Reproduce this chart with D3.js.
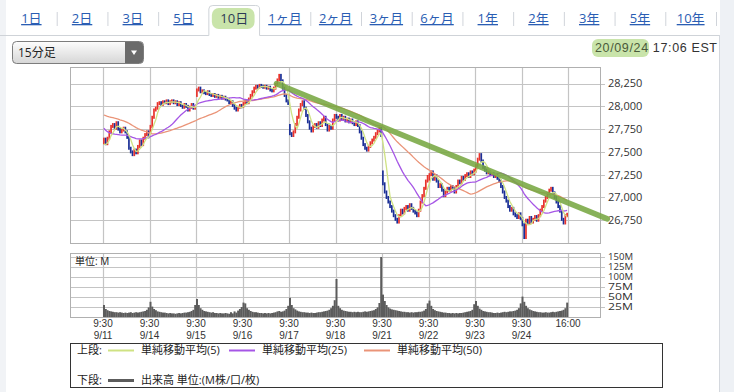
<!DOCTYPE html>
<html>
<head>
<meta charset="utf-8">
<script src="https://cdn.jsdelivr.net/npm/d3@7"></script>
<style>
body { margin: 0; background: #fff; }
svg { display: block; font-family: "Open Sans", "Noto Sans CJK JP", sans-serif; }
</style>
</head>
<body>
<svg id="chart" width="734" height="392"></svg>
<script>
// Range tabs
const tabs = ["1日", "2日", "3日", "5日", "10日", "1ヶ月", "2ヶ月", "3ヶ月", "6ヶ月", "1年", "2年", "3年", "5年", "10年"];
const activeTab = "10日";
const stamp = "20/09/24";
const stampTime = " 17:06 EST";

// Sessions (15 min bars, 9:30 - 16:00 = 26 bars per day)
const days = ["9/11", "9/14", "9/15", "9/16", "9/17", "9/18", "9/21", "9/22", "9/23", "9/24"];
const priceTicks = [26750, 27000, 27250, 27500, 27750, 28000, 28250];
const volTicks = [25, 50, 75, 100, 125, 150];

// closes before 9/11 (only used to seed the moving averages)
const priorClose = [27970, 28000, 28020, 28010, 28040, 28030, 28060, 28050, 28070, 28040, 28060, 28080,
  28070, 28050, 28080, 28100, 28090, 28070, 28060, 28040, 28030, 28010, 27980, 28100, 28150,
  28120, 28060, 28000, 27950, 27920, 27880, 27860, 27830, 27800, 27780, 27760, 27740, 27720,
  27700, 27690, 27680, 27670, 27650, 27640, 27620, 27600, 27580, 27560, 27540];

// first open of each day
const dayOpen = [27600, 27720, 28120, 28000, 27790, 27900, 27280, 27200, 27290, 26770];

const close0911 = [27640, 27590, 27650, 27720, 27780, 27800, 27760, 27820, 27750, 27720, 27740, 27760, 27720, 27660, 27540, 27500, 27470, 27520, 27490, 27560, 27620, 27580, 27650, 27690, 27720, 27665];
const close0914 = [27780, 27880, 27960, 27980, 28030, 28040, 28020, 28050, 28040, 28060, 28030, 28050, 28060, 28040, 28050, 28020, 28040, 28010, 27990, 28020, 28000, 27960, 27990, 28020, 27980, 27993];
const close0915 = [28180, 28200, 28160, 28170, 28150, 28140, 28160, 28130, 28120, 28130, 28110, 28120, 28100, 28110, 28090, 28100, 28080, 28070, 28040, 28050, 28010, 27980, 27960, 27990, 28010, 27995];
const close0916 = [28030, 28060, 28040, 28080, 28120, 28160, 28200, 28220, 28210, 28230, 28220, 28210, 28220, 28200, 28210, 28180, 28170, 28200, 28240, 28290, 28340, 28280, 28200, 28120, 28060, 28032];
const close0917 = [27700, 27680, 27720, 27800, 27880, 27960, 28020, 28050, 27980, 27900, 27830, 27760, 27730, 27780, 27800, 27770, 27820, 27790, 27850, 27880, 27800, 27740, 27780, 27760, 27850, 27900];
const close0918 = [27880, 27850, 27900, 27860, 27880, 27840, 27860, 27830, 27850, 27820, 27800, 27830, 27790, 27720, 27650, 27580, 27540, 27520, 27560, 27600, 27630, 27660, 27700, 27730, 27760, 27680];
const close0921 = [27150, 27060, 27000, 26950, 26900, 26850, 26800, 26760, 26730, 26800, 26860, 26830, 26880, 26900, 26860, 26920, 26880, 26850, 26830, 26800, 26860, 26950, 27020, 27100, 27180, 27230];
const close0922 = [27250, 27280, 27200, 27240, 27180, 27120, 27140, 27080, 27020, 27060, 27100, 27080, 27120, 27100, 27060, 27120, 27180, 27160, 27220, 27200, 27240, 27260, 27230, 27280, 27260, 27300];
const close0923 = [27350, 27420, 27470, 27400, 27330, 27300, 27270, 27280, 27250, 27260, 27230, 27240, 27210, 27180, 27120, 27060, 27000, 26960, 26900, 26860, 26880, 26820, 26800, 26780, 26820, 26770];
const close0924 = [26700, 26560, 26750, 26720, 26780, 26730, 26760, 26790, 26750, 26800, 26860, 26900, 26960, 27000, 27040, 27080, 27100, 27050, 27000, 26950, 26900, 26850, 26760, 26720, 26800, 26815];

// volume, millions
const vol0911 = [30, 20, 17, 15, 14, 13, 12, 12, 11, 12, 11, 10, 11, 10, 11, 12, 10, 11, 12, 11, 12, 13, 14, 15, 18, 24];
const vol0914 = [38, 26, 20, 17, 14, 13, 12, 11, 11, 10, 9, 10, 9, 9, 8, 9, 10, 9, 10, 11, 11, 12, 13, 15, 18, 30];
const vol0915 = [45, 30, 22, 18, 15, 14, 13, 12, 11, 12, 10, 10, 9, 10, 9, 9, 10, 9, 8, 12, 9, 14, 11, 16, 20, 25];
const vol0916 = [36, 34, 22, 18, 15, 13, 12, 12, 11, 10, 10, 9, 10, 9, 10, 9, 10, 11, 12, 14, 15, 13, 14, 16, 20, 28];
const vol0917 = [48, 30, 22, 19, 16, 14, 13, 12, 12, 11, 11, 10, 11, 10, 10, 11, 12, 12, 13, 14, 15, 16, 18, 22, 28, 42];
const vol0918 = [95, 28, 22, 18, 16, 15, 14, 13, 13, 12, 13, 12, 13, 12, 12, 13, 14, 13, 14, 15, 16, 17, 20, 24, 35, 150];
const vol0921 = [56, 40, 30, 24, 21, 19, 18, 17, 16, 15, 14, 13, 13, 12, 12, 11, 12, 11, 12, 12, 13, 13, 14, 16, 20, 34];
const vol0922 = [41, 28, 20, 17, 15, 14, 13, 12, 11, 11, 10, 10, 9, 10, 9, 10, 9, 10, 10, 11, 12, 13, 14, 15, 18, 32];
const vol0923 = [40, 28, 21, 18, 15, 14, 13, 12, 12, 11, 10, 10, 11, 10, 11, 12, 13, 12, 13, 14, 14, 15, 16, 18, 22, 34];
const vol0924 = [51, 38, 28, 22, 19, 17, 15, 14, 13, 12, 12, 11, 11, 12, 11, 11, 12, 13, 12, 13, 14, 15, 16, 18, 22, 36];

// hand drawn trend line: [bar index, price]
const trendLine = [[97, 28250], [282, 26765]];

const maPeriods = [5, 25, 50];
const maLabels = ["単純移動平均(5)", "単純移動平均(25)", "単純移動平均(50)"];
const maColors = ["#cfe283", "#a656e6", "#ea9478"];

// ---- build bars
const closesByDay = [close0911, close0914, close0915, close0916, close0917, close0918, close0921, close0922, close0923, close0924];
const volsByDay = [vol0911, vol0914, vol0915, vol0916, vol0917, vol0918, vol0921, vol0922, vol0923, vol0924];
const perDay = 26;
const bars = [];
closesByDay.forEach((cl, d) => {
  cl.forEach((c, k) => {
    const o = k === 0 ? dayOpen[d] : cl[k - 1];
    bars.push({ i: bars.length, o: o, c: c, v: volsByDay[d][k] });
  });
});
const allClose = priorClose.concat(bars.map(b => b.c));
const ma = maPeriods.map(n => bars.map((b, j) => {
  const end = priorClose.length + j + 1;
  return { i: j, v: d3.mean(allClose.slice(end - n, end)) };
}));

// ---- layout
const svg = d3.select("#chart");
const W = 734, H = 392;
const plot = { left: 70, right: 600, top: 67, bottom: 243 };
const vplot = { top: 253, bottom: 317 };

const x = d3.scaleLinear().domain([0, bars.length]).range([103, 568]);
const y = d3.scaleLinear().domain([26500, 28432]).range([plot.bottom, plot.top]);
const yv = d3.scaleLinear().domain([0, 160]).range([vplot.bottom, vplot.top]);
const step = x(1) - x(0);

// page frame
svg.append("rect").attr("x", 0).attr("y", 0).attr("width", W).attr("height", H).attr("fill", "#fff");
svg.append("rect").attr("x", 720).attr("y", 0).attr("width", 14).attr("height", H).attr("fill", "#eef1f5");
svg.append("rect").attr("x", 0).attr("y", 0).attr("width", 6).attr("height", H).attr("fill", "#f1f3f6");
svg.append("line").attr("x1", 719.5).attr("x2", 719.5).attr("y1", 35).attr("y2", H).attr("stroke", "#d4d8de");

// tabs
const tabX = d3.scaleBand().domain(tabs).range([6, 716]);
const tabG = svg.append("g");
const at = tabX(activeTab);
tabG.append("path")
  .attr("d", `M0,35.5H${at}V9Q${at},5.5 ${at + 4},5.5H${at + tabX.bandwidth() - 4}Q${at + tabX.bandwidth()},5.5 ${at + tabX.bandwidth()},9V35.5H719`)
  .attr("fill", "none").attr("stroke", "#cfd3d8");
tabG.append("rect").attr("x", at + 3).attr("y", 8).attr("width", tabX.bandwidth() - 8).attr("height", 21)
  .attr("rx", 7).attr("fill", "#b2d986").attr("opacity", 0.7);
tabs.forEach((t, k) => {
  const cx = tabX(t) + tabX.bandwidth() / 2;
  const isActive = t === activeTab;
  tabG.append("text").attr("x", cx).attr("y", 23).attr("text-anchor", "middle")
    .attr("font-size", 13).attr("fill", isActive ? "#2d3a55" : "#2a5db3")
    .attr("text-decoration", isActive ? null : "underline")
    .text(t);
  if (k > 0 && t !== activeTab && tabs[k - 1] !== activeTab) {
    tabG.append("line").attr("x1", tabX(t) + 0.5).attr("x2", tabX(t) + 0.5).attr("y1", 12).attr("y2", 26)
      .attr("stroke", "#d0d4da");
  }
});
tabG.append("line").attr("x1", 716.5).attr("x2", 716.5).attr("y1", 12).attr("y2", 26).attr("stroke", "#d0d4da");

// dropdown
const defs = svg.append("defs");
const grad = defs.append("linearGradient").attr("id", "dd").attr("x1", 0).attr("x2", 0).attr("y1", 0).attr("y2", 1);
grad.append("stop").attr("offset", "0%").attr("stop-color", "#fdfdfd");
grad.append("stop").attr("offset", "100%").attr("stop-color", "#d6d6d6");
svg.append("rect").attr("x", 12.5).attr("y", 41.5).attr("width", 131).attr("height", 22).attr("rx", 4)
  .attr("fill", "url(#dd)").attr("stroke", "#7d7d7d");
svg.append("path").attr("d", "M125,42H139.5Q143,42 143,45.5V59.5Q143,63 139.5,63H125Z").attr("fill", "#6b6b6b");
svg.append("path").attr("d", "M131,50.5H137L134,55Z").attr("fill", "#fff");
svg.append("text").attr("x", 18).attr("y", 57).attr("font-size", 12).attr("fill", "#222").text("15分足");

// time stamp
svg.append("rect").attr("x", 592).attr("y", 39).attr("width", 57).attr("height", 18).attr("rx", 6)
  .attr("fill", "#b2d986").attr("opacity", 0.7);
const st = svg.append("text").attr("x", 595).attr("y", 52)
  .attr("font-family", "'Liberation Sans', Arial, sans-serif")
  .attr("font-size", 12.5).attr("fill", "#333").attr("textLength", 122);
st.append("tspan").attr("fill", "#4a5a3a").text(stamp);
st.append("tspan").text(stampTime);

// ---- price panel grid
const grid = "#c4c4c4";
const pg = svg.append("g");
priceTicks.forEach(p => {
  pg.append("line").attr("x1", plot.left).attr("x2", plot.right + 5)
    .attr("y1", Math.round(y(p)) + 0.5).attr("y2", Math.round(y(p)) + 0.5)
    .attr("stroke", grid).attr("stroke-width", 1.2);
  pg.append("text").attr("x", 608).attr("y", y(p)).attr("dy", "0.35em")
    .attr("font-size", 11).attr("fill", "#333").text(d3.format(",")(p));
});
const dayLines = d3.range(days.length + 1).map(d => d * perDay);
dayLines.forEach(i => {
  pg.append("line").attr("x1", Math.round(x(i)) + 0.5).attr("x2", Math.round(x(i)) + 0.5)
    .attr("y1", plot.top).attr("y2", plot.bottom).attr("stroke", grid).attr("stroke-width", 1.2);
});
pg.append("rect").attr("x", plot.left + 0.5).attr("y", plot.top + 0.5)
  .attr("width", plot.right - plot.left).attr("height", plot.bottom - plot.top)
  .attr("fill", "none").attr("stroke", "#b0b0b0");

// candles
const up = "#e8332c", down = "#1b2f96";
svg.append("g").selectAll("rect").data(bars).enter().append("rect")
  .attr("x", d => x(d.i + 0.5) - 0.85)
  .attr("width", 1.7)
  .attr("y", d => y(Math.max(d.o, d.c)) - 1.5)
  .attr("height", d => Math.abs(y(d.o) - y(d.c)) + 3)
  .attr("fill", d => d.c >= d.o ? up : down);

// moving averages
const maLine = d3.line().x(d => x(d.i + 0.5)).y(d => y(d.v));
[2, 1, 0].forEach(k => {
  svg.append("path").datum(ma[k]).attr("d", maLine)
    .attr("fill", "none").attr("stroke", maColors[k]).attr("stroke-width", 1.3);
});

// trend line annotation
svg.append("path").datum(trendLine)
  .attr("d", d3.line().x(d => x(d[0])).y(d => y(d[1])))
  .attr("fill", "none").attr("stroke", "#78a742").attr("stroke-width", 5.5)
  .attr("stroke-linecap", "round").attr("opacity", 0.88);

// ---- volume panel
const vg = svg.append("g");
volTicks.forEach(v => {
  vg.append("line").attr("x1", plot.left).attr("x2", plot.right + 5)
    .attr("y1", Math.round(yv(v)) + 0.5).attr("y2", Math.round(yv(v)) + 0.5)
    .attr("stroke", grid).attr("stroke-width", 1.2);
  vg.append("text").attr("x", 608).attr("y", yv(v)).attr("dy", "0.35em")
    .attr("font-size", 8.5).attr("fill", "#333")
    .attr("textLength", 25).attr("lengthAdjust", "spacingAndGlyphs").text(v + "M");
});
dayLines.forEach(i => {
  vg.append("line").attr("x1", Math.round(x(i)) + 0.5).attr("x2", Math.round(x(i)) + 0.5)
    .attr("y1", vplot.top).attr("y2", vplot.bottom).attr("stroke", grid).attr("stroke-width", 1.2);
});
vg.append("g").selectAll("rect").data(bars).enter().append("rect")
  .attr("x", d => x(d.i))
  .attr("width", step + 0.2)
  .attr("y", d => yv(d.v))
  .attr("height", d => yv(0) - yv(d.v))
  .attr("fill", "#5c5c5c");
vg.append("rect").attr("x", plot.left + 0.5).attr("y", vplot.top + 0.5)
  .attr("width", plot.right - plot.left).attr("height", vplot.bottom - vplot.top)
  .attr("fill", "none").attr("stroke", "#b0b0b0");
vg.append("text").attr("x", 75).attr("y", 265).attr("font-size", 10).attr("fill", "#222").text("単位: M");

// x labels
const xl = svg.append("g").attr("font-size", 10).attr("fill", "#333").attr("text-anchor", "middle")
  .attr("font-family", "'Liberation Sans', Arial, sans-serif");
days.forEach((d, k) => {
  xl.append("text").attr("x", x(k * perDay)).attr("y", 327).text("9:30");
  xl.append("text").attr("x", x(k * perDay)).attr("y", 339).text(d);
});
xl.append("text").attr("x", x(bars.length)).attr("y", 327).text("16:00");

// ---- legend
const lg = svg.append("g").attr("font-size", 11).attr("fill", "#222");
lg.append("rect").attr("x", 70.5).attr("y", 343.5).attr("width", 592).attr("height", 44)
  .attr("fill", "#fff").attr("stroke", "#333");
lg.append("text").attr("x", 77).attr("y", 354).text("上段:");
const legX = [108, 229, 364];
maLabels.forEach((t, k) => {
  lg.append("line").attr("x1", legX[k]).attr("x2", legX[k] + 26).attr("y1", 350.5).attr("y2", 350.5)
    .attr("stroke", maColors[k]).attr("stroke-width", 2);
  lg.append("text").attr("x", legX[k] + 33).attr("y", 354).text(t);
});
lg.append("text").attr("x", 77).attr("y", 384).text("下段:");
lg.append("line").attr("x1", 108).attr("x2", 134).attr("y1", 380.5).attr("y2", 380.5)
  .attr("stroke", "#5c5c5c").attr("stroke-width", 3);
lg.append("text").attr("x", 141).attr("y", 384).text("出来高 単位:(M株/口/枚)");
</script>
</body>
</html>
